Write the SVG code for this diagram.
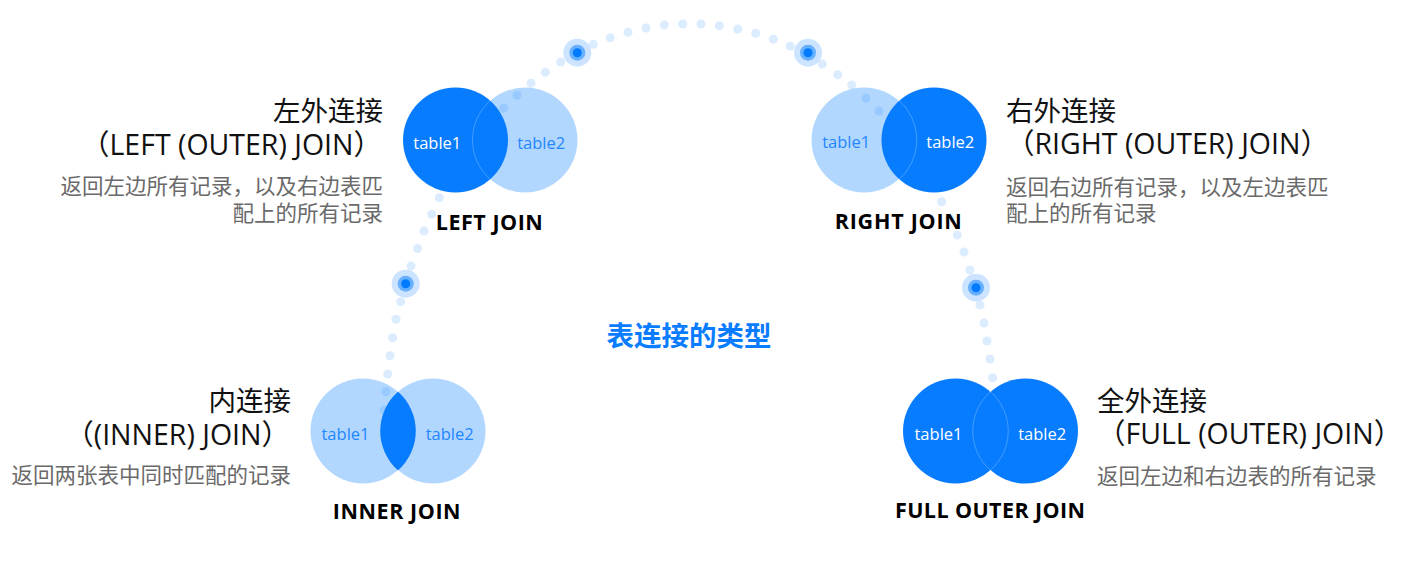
<svg xmlns="http://www.w3.org/2000/svg" width="1402" height="563" viewBox="0 0 1402 563">
<defs>
<style>
.dot{fill:#007aff;fill-opacity:0.14}
.light{fill:#007aff;fill-opacity:0.3}
.dark{fill:#077cff}
.seam{fill:none;stroke:#ffffff;stroke-opacity:0.3;stroke-width:0.8}
.m1{fill:#cce4ff}.m2{fill:#66b0ff}.m3{fill:#007aff}
.tw{font-family:"Open Sans","Liberation Sans",sans-serif;font-size:16.5px;fill:#ffffff;text-anchor:middle}
.tb{font-family:"Open Sans","Liberation Sans",sans-serif;font-size:16.5px;fill:#1f86ff;text-anchor:middle}
.lab{font-family:"Open Sans","Liberation Sans",sans-serif;font-size:21.5px;font-weight:bold;fill:#000000;text-anchor:middle}
.ttl{font-family:"Open Sans","Noto Sans CJK SC",sans-serif;font-size:27.5px;fill:#111111}
.en{font-size:28.5px}
.dsc{font-family:"Noto Sans CJK SC",sans-serif;font-size:21.5px;fill:#6a6a6a}
.end{text-anchor:end}
.ctr{font-family:"Noto Sans CJK SC",sans-serif;font-size:27.5px;font-weight:bold;fill:#0a7cff;text-anchor:middle}
</style>
<g id="marker"><circle class="m1" r="14"/><circle class="m2" r="8"/><circle class="m3" r="4.5"/></g>
</defs>
<rect width="1402" height="563" fill="#ffffff"/>
<g id="connectors">
<circle class="dot" cx="384" cy="410" r="4.5"/>
<circle class="dot" cx="386" cy="391.7" r="4.5"/>
<circle class="dot" cx="387.7" cy="374" r="4.5"/>
<circle class="dot" cx="390" cy="355.7" r="4.5"/>
<circle class="dot" cx="392.7" cy="337.7" r="4.5"/>
<circle class="dot" cx="396" cy="319.3" r="4.5"/>
<circle class="dot" cx="400.7" cy="301.7" r="4.5"/>
<circle class="dot" cx="411" cy="266" r="4.5"/>
<circle class="dot" cx="417.5" cy="248.5" r="4.5"/>
<circle class="dot" cx="424" cy="231" r="4.5"/>
<circle class="dot" cx="431.7" cy="214.3" r="4.5"/>
<circle class="dot" cx="439.3" cy="197.7" r="4.5"/>
<circle class="dot" cx="503.7" cy="108.3" r="4.5"/>
<circle class="dot" cx="517" cy="95.3" r="4.5"/>
<circle class="dot" cx="531" cy="83.3" r="4.5"/>
<circle class="dot" cx="545.3" cy="72.3" r="4.5"/>
<circle class="dot" cx="560.7" cy="62" r="4.5"/>
<circle class="dot" cx="593.3" cy="44.3" r="4.5"/>
<circle class="dot" cx="610.3" cy="37.7" r="4.5"/>
<circle class="dot" cx="628" cy="32.3" r="4.5"/>
<circle class="dot" cx="646" cy="28" r="4.5"/>
<circle class="dot" cx="664.3" cy="25" r="4.5"/>
<circle class="dot" cx="682.7" cy="24" r="4.5"/>
<circle class="dot" cx="701" cy="24" r="4.5"/>
<circle class="dot" cx="719.3" cy="25.7" r="4.5"/>
<circle class="dot" cx="737.7" cy="29" r="4.5"/>
<circle class="dot" cx="755.7" cy="33.3" r="4.5"/>
<circle class="dot" cx="773.3" cy="39.3" r="4.5"/>
<circle class="dot" cx="790.3" cy="46.3" r="4.5"/>
<circle class="dot" cx="822.3" cy="64" r="4.5"/>
<circle class="dot" cx="837.7" cy="74.7" r="4.5"/>
<circle class="dot" cx="851.7" cy="85" r="4.5"/>
<circle class="dot" cx="866" cy="98.3" r="4.5"/>
<circle class="dot" cx="879" cy="111" r="4.5"/>
<circle class="dot" cx="941.7" cy="201.7" r="4.5"/>
<circle class="dot" cx="949.5" cy="218.5" r="4.5"/>
<circle class="dot" cx="957.3" cy="235" r="4.5"/>
<circle class="dot" cx="964" cy="252" r="4.5"/>
<circle class="dot" cx="970" cy="270" r="4.5"/>
<circle class="dot" cx="980" cy="305" r="4.5"/>
<circle class="dot" cx="984" cy="323" r="4.5"/>
<circle class="dot" cx="987" cy="341" r="4.5"/>
<circle class="dot" cx="990" cy="359" r="4.5"/>
<circle class="dot" cx="992.7" cy="377.7" r="4.5"/>
</g>
<g id="left-join">
<circle class="light" cx="525" cy="140" r="52.5"/>
<circle class="dark" cx="455.5" cy="140" r="52.5"/>
<path class="seam" d="M490.25,100.65 A52.5,52.5 0 0 0 490.25,179.35"/>
<text class="tw" x="437.3" y="148.5">table1</text>
<text class="tb" x="541.2" y="148.5">table2</text>
<text class="lab" x="489.3" y="230" textLength="107">LEFT JOIN</text>
<text class="ttl end" x="383" y="121">左外连接</text>
<text class="ttl en end" x="382" y="155">（LEFT (OUTER) JOIN）</text>
<text class="dsc end" x="383" y="194">返回左边所有记录，以及右边表匹</text>
<text class="dsc end" x="383" y="221">配上的所有记录</text>
</g>
<g id="right-join">
<circle class="light" cx="864" cy="140" r="52.5"/>
<circle class="dark" cx="934" cy="140" r="52.5"/>
<path class="seam" d="M899,100.65 A52.5,52.5 0 0 1 899,179.35"/>
<text class="tb" x="846.2" y="148.3">table1</text>
<text class="tw" x="950.3" y="148.3">table2</text>
<text class="lab" x="898.3" y="229.3" textLength="127">RIGHT JOIN</text>
<text class="ttl" x="1006" y="121">右外连接</text>
<text class="ttl en" x="1006" y="154">（RIGHT (OUTER) JOIN）</text>
<text class="dsc" x="1006" y="195">返回右边所有记录，以及左边表匹</text>
<text class="dsc" x="1006" y="221">配上的所有记录</text>
</g>
<g id="inner-join">
<circle class="light" cx="363" cy="431" r="52.5"/>
<circle class="light" cx="433" cy="431" r="52.5"/>
<path class="dark" d="M398,391.65 A52.5,52.5 0 0 1 398,470.35 A52.5,52.5 0 0 1 398,391.65 Z"/>
<text class="tb" x="345.5" y="440">table1</text>
<text class="tb" x="449.7" y="440">table2</text>
<text class="lab" x="396.7" y="519.3" textLength="127.7">INNER JOIN</text>
<text class="ttl end" x="291" y="411">内连接</text>
<text class="ttl en end" x="290" y="445">（(INNER) JOIN）</text>
<text class="dsc end" x="291" y="483">返回两张表中同时匹配的记录</text>
</g>
<g id="full-outer-join">
<circle class="dark" cx="955.5" cy="431" r="52.5"/>
<circle class="dark" cx="1025.5" cy="431" r="52.5"/>
<path class="seam" d="M990.5,391.65 A52.5,52.5 0 0 1 990.5,470.35 A52.5,52.5 0 0 1 990.5,391.65 Z"/>
<text class="tw" x="938.5" y="440">table1</text>
<text class="tw" x="1042.2" y="440">table2</text>
<text class="lab" x="990" y="518.3" textLength="190">FULL OUTER JOIN</text>
<text class="ttl" x="1097" y="411">全外连接</text>
<text class="ttl en" x="1097" y="444">（FULL (OUTER) JOIN）</text>
<text class="dsc" x="1097" y="484">返回左边和右边表的所有记录</text>
</g>
<g id="markers">
<use href="#marker" x="577.3" y="52.7"/>
<use href="#marker" x="808" y="52.7"/>
<use href="#marker" x="405.7" y="283.7"/>
<use href="#marker" x="976" y="287.7"/>
</g>
<g id="title">
<text class="ctr" x="689" y="346">表连接的类型</text>
</g>
</svg>
